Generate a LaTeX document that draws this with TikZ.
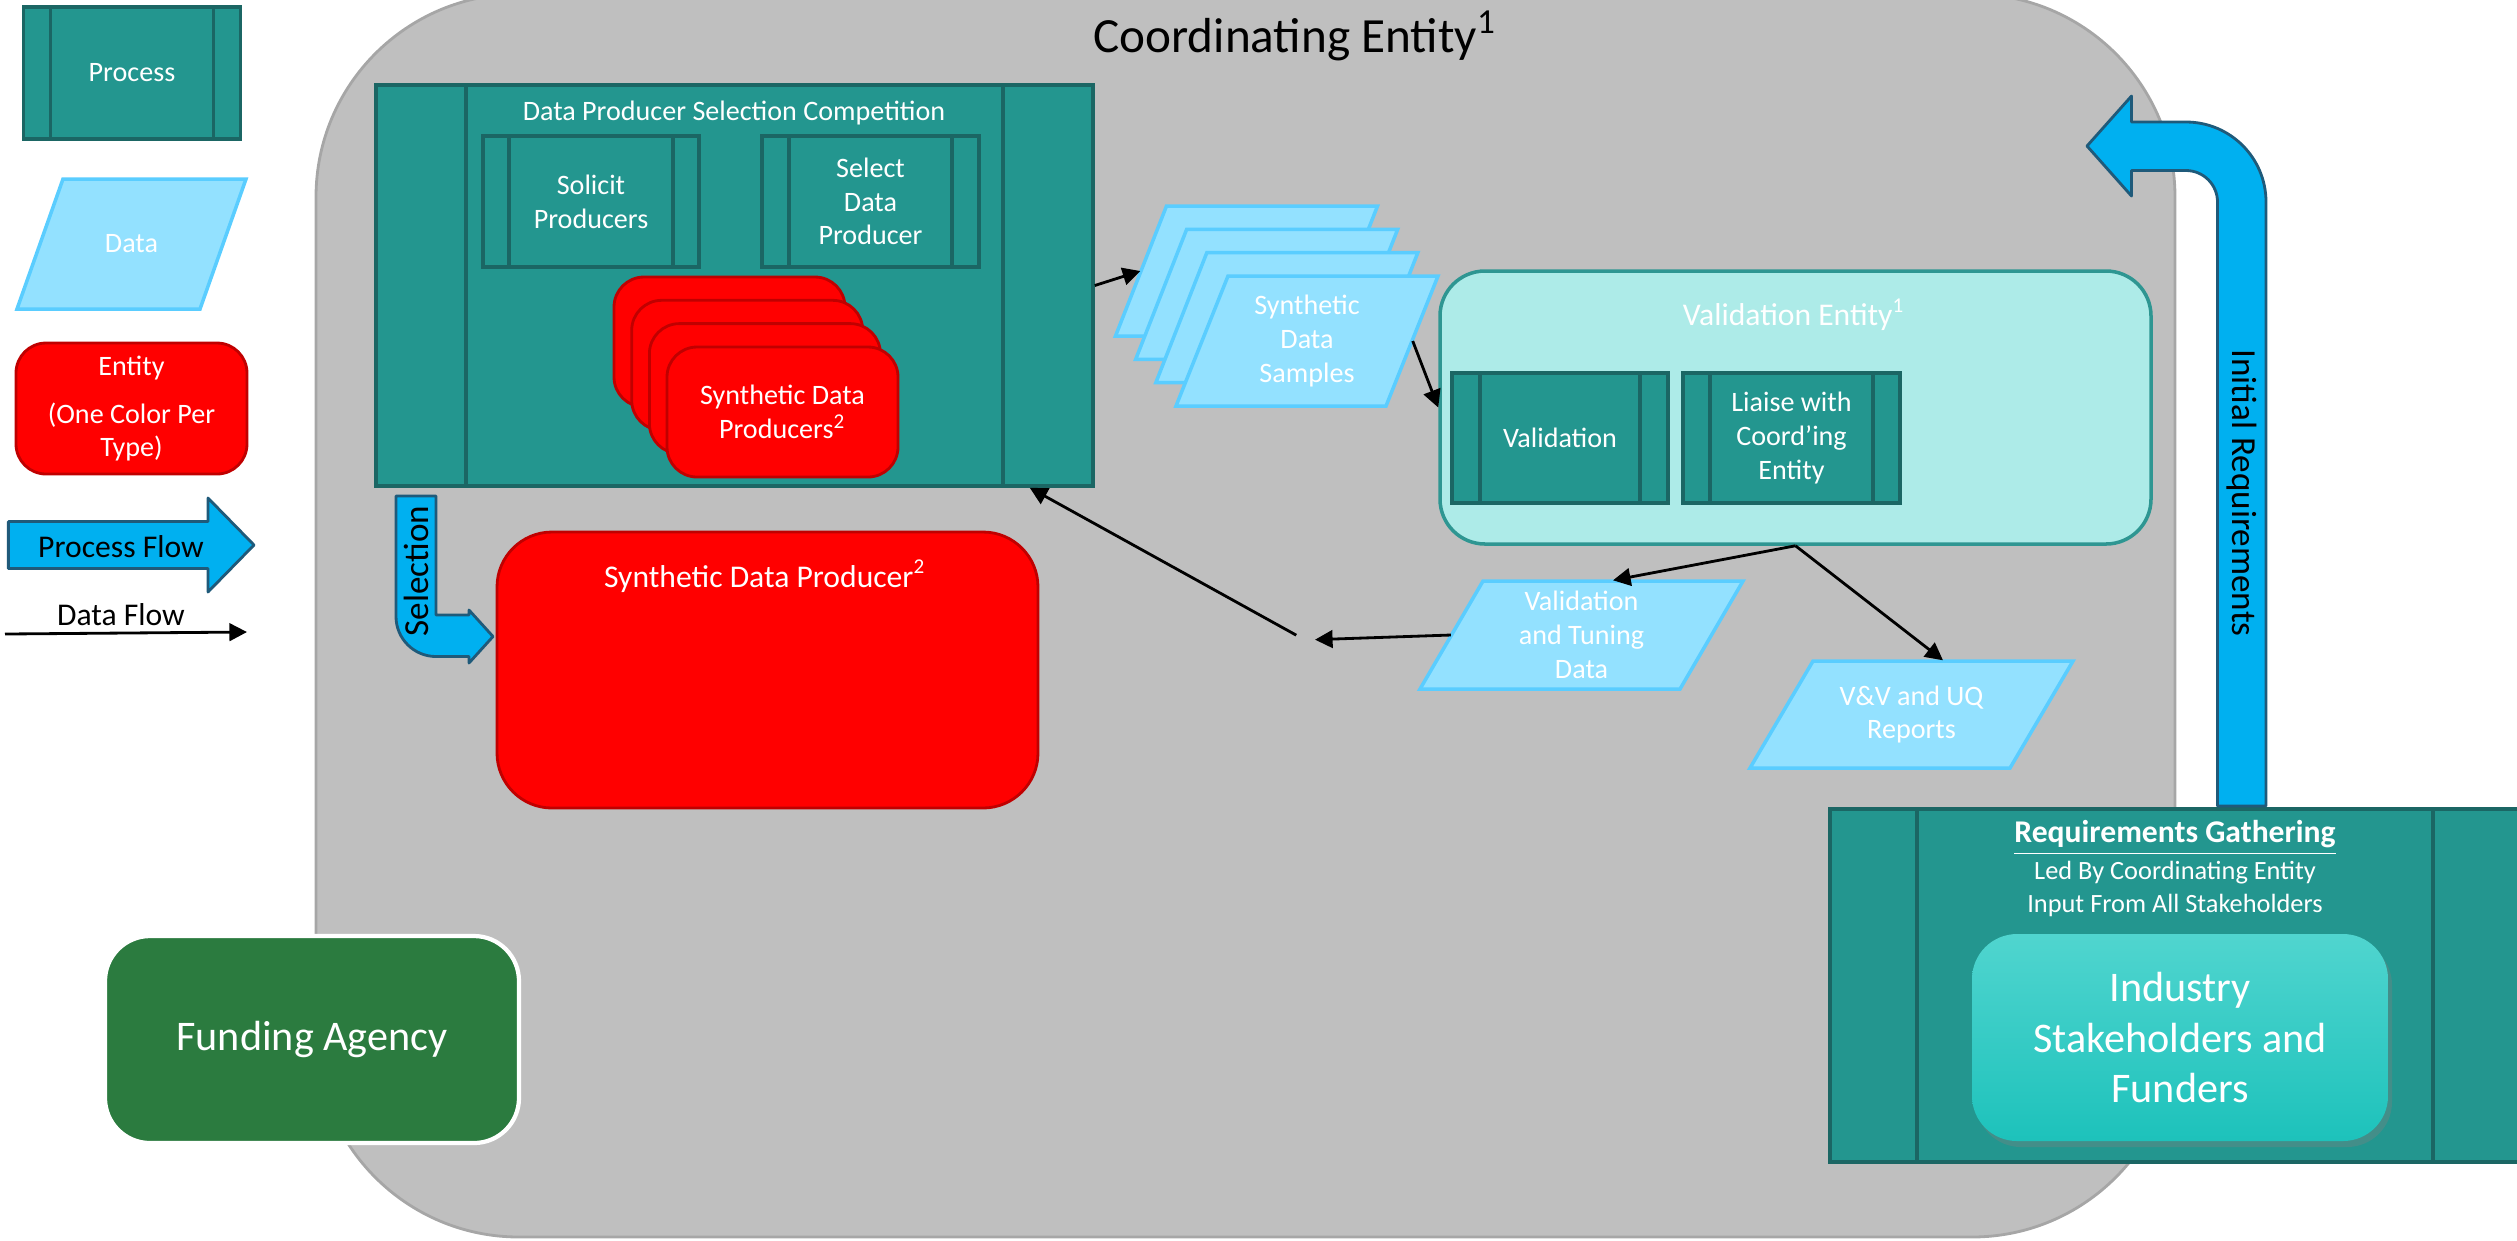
\documentclass[tikz,border=0pt]{standalone}
\usepackage{fontspec}
\setmainfont{Carlito}
\usepackage{tikz}
\usetikzlibrary{arrows.meta}
\usetikzlibrary{shadows}
\definecolor{procfill}{HTML}{23968F}
\definecolor{procline}{HTML}{1B6664}
\definecolor{datfill}{HTML}{93E1FF}
\definecolor{datline}{HTML}{5ACDFF}
\definecolor{entline}{HTML}{C00000}
\definecolor{coordfill}{HTML}{BFBFBF}
\definecolor{coordline}{HTML}{A6A6A6}
\definecolor{valfill}{HTML}{ADEBE8}
\definecolor{valline}{HTML}{2E9692}
\definecolor{flowfill}{HTML}{00B0F0}
\definecolor{flowline}{HTML}{1F5A7A}
\definecolor{fundfill}{HTML}{2B7B3F}
\definecolor{indtop}{HTML}{50D5CF}
\definecolor{indbot}{HTML}{1DC2BB}

\tikzset{
  txt/.style={font=\fontsize{8}{9.6}\selectfont},
  procbox/.style={draw=procline, fill=procfill, line width=1pt, text=white, txt, align=center, inner sep=0pt,
    path picture={\draw[procline, line width=1pt]
      ([xshift=#1]path picture bounding box.north west) -- ([xshift=#1]path picture bounding box.south west)
      ([xshift=-#1]path picture bounding box.north east) -- ([xshift=-#1]path picture bounding box.south east);}},
  procbox/.default=0.27cm,
  datshape/.style={draw=datline, fill=datfill, line width=1pt},
  datatext/.style={text=white, txt, align=center, inner sep=0pt},
  pics/para/.style n args={3}{code={\filldraw[datshape] (-#1/2,-#2/2) -- ++(#1-#3,0) -- ++(#3,#2) -- ++(#3-#1,0) -- cycle;}},
  entbox/.style={draw=entline, fill=red, line width=0.8pt, rounded corners=0.3cm, text=white, txt, align=center},
  dflow/.style={-{Triangle[length=5pt,width=5pt]}, line width=0.8pt},
  bigflow/.style={fill=flowfill, draw=flowline, line width=0.8pt, line join=round},
}

\begin{document}
\begin{tikzpicture}
\useasboundingbox (0,0) rectangle (25.17,-12.40);

% legend
\node[procbox, minimum width=2.17cm, minimum height=1.32cm] (legproc) at (1.32,-0.73) {Process};
\pic at (1.315,-2.44) {para={2.29}{1.30}{0.46}};
\node[datatext, minimum width=1.83cm, minimum height=1.30cm] (legdata) at (1.315,-2.44) {Data};
\node[entbox, minimum width=2.31cm, minimum height=1.31cm] (legent) at (1.315,-4.085) {Entity\\[4pt](One Color Per\\Type)};
\draw[bigflow] (0.084,-5.215) -- (2.08,-5.215) -- (2.08,-4.98) -- (2.54,-5.45) -- (2.08,-5.92) -- (2.08,-5.685) -- (0.084,-5.685) -- cycle;
\node[font=\fontsize{9}{10.8}\selectfont] (legpflow) at (1.21,-5.47) {Process Flow};
\node[font=\fontsize{9}{10.8}\selectfont] (legdflow) at (1.21,-6.15) {Data Flow};
\coordinate (dfa) at (0.05,-6.34);
\coordinate (dfb) at (2.47,-6.32);
\draw[dflow] (dfa) -- (dfb);

% coordinating entity
\node[draw=coordline, fill=coordfill, line width=0.8pt, rounded corners=2.03cm, minimum width=18.59cm, minimum height=12.43cm] (coord) at (12.455,-6.155) {};
\node[font=\fontsize{14}{16.8}\selectfont] (coordtitle) at (12.95,-0.36) {Coordinating Entity\textsuperscript{\fontsize{10}{12}\selectfont 1}};

% selection competition
\node[procbox=0.90cm, minimum width=7.17cm, minimum height=4.01cm] (dpsc) at (7.345,-2.855) {};
\node[text=white, txt] (dpsctitle) at (7.34,-1.13) {Data Producer Selection Competition};
\node[procbox=0.26cm, minimum width=2.16cm, minimum height=1.31cm] (solicit) at (5.91,-2.015) {Solicit\\Producers};
\node[procbox, minimum width=2.17cm, minimum height=1.31cm] (select) at (8.705,-2.015) {Select\\Data\\Producer};
\foreach \i in {0,1,2}
  \node[entbox, minimum width=2.31cm, minimum height=1.30cm] (sdp\i) at (7.295+\i*0.177,-3.42-\i*0.233) {};
\node[entbox, minimum width=2.31cm, minimum height=1.30cm] (sdps) at (7.825,-4.12) {Synthetic Data\\Producers\textsuperscript{2}};

% samples
\foreach \i in {0,1,2} {
  \pic at (12.465+\i*0.2017,-2.71-\i*0.233) {para={2.62}{1.30}{0.51}};
  \node[datatext, minimum width=2.11cm, minimum height=1.30cm] (sds\i) at (12.465+\i*0.2017,-2.71-\i*0.233) {};
}
\pic at (13.07,-3.41) {para={2.62}{1.30}{0.52}};
\node[datatext, minimum width=2.10cm, minimum height=1.30cm] (sds) at (13.07,-3.41) {Synthetic\\Data\\Samples};

% validation entity
\node[draw=valline, fill=valfill, line width=1pt, rounded corners=0.45cm, minimum width=7.11cm, minimum height=2.73cm] (valent) at (17.955,-4.075) {};
\node[text=white, font=\fontsize{9}{10.8}\selectfont] (valtitle) at (17.94,-3.15) {Validation Entity\textsuperscript{1}};
\node[procbox=0.28cm, minimum width=2.16cm, minimum height=1.30cm] (valid) at (15.60,-4.38) {Validation};
\node[procbox, minimum width=2.17cm, minimum height=1.30cm] (liaise) at (17.915,-4.38) {Liaise with\\Coord’ing\\Entity};

\pic at (15.815,-6.35) {para={3.23}{1.08}{0.63}};
\node[datatext, minimum width=2.60cm, minimum height=1.08cm] (vtd) at (15.815,-6.35) {Validation\\and Tuning\\Data};
\pic at (19.115,-7.145) {para={3.23}{1.07}{0.63}};
\node[datatext, minimum width=2.60cm, minimum height=1.07cm] (vnv) at (19.115,-7.145) {V\&V and UQ\\Reports};

% selected producer
\node[entbox, rounded corners=0.55cm, minimum width=5.41cm, minimum height=2.76cm] (sdp) at (7.675,-6.70) {};
\node[text=white, font=\fontsize{9}{10.8}\selectfont] (sdptitle) at (7.65,-5.76) {Synthetic Data Producer\textsuperscript{2}};
\draw[bigflow] (3.96,-4.96) -- (3.96,-6.165) arc (180:270:0.40) -- (4.69,-6.565) -- (4.69,-6.63) -- (4.93,-6.365) -- (4.69,-6.10) -- (4.69,-6.15) -- (4.36,-6.15) -- (4.36,-4.96) -- cycle;
\node[rotate=90, font=\fontsize{10}{12}\selectfont] (seltext) at (4.16,-5.71) {Selection};

\node[draw=white, fill=fundfill, line width=1.2pt, rounded corners=0.45cm, minimum width=4.14cm, minimum height=2.07cm, text=white, font=\fontsize{12}{14.4}\selectfont] (fund) at (3.12,-10.395) {Funding Agency};

% requirements
\node[procbox=0.87cm, minimum width=6.90cm, minimum height=3.53cm] (reqs) at (21.75,-9.855) {};
\node[text=white, font=\bfseries\fontsize{9}{10.8}\selectfont] (reqtitle) at (21.75,-8.38) {\underline{Requirements Gathering}};
\node[text=white, align=center, font=\fontsize{7.5}{9.2}\selectfont] (reqsub) at (21.75,-8.89) {Led By Coordinating Entity\\Input From All Stakeholders};
\node[rounded corners=0.45cm, top color=indtop, bottom color=indbot, drop shadow={opacity=0.35, shadow xshift=0.04cm, shadow yshift=-0.06cm}, minimum width=4.16cm, minimum height=2.07cm, text=white, align=center, font=\fontsize{12}{14.5}\selectfont] (indus) at (21.80,-10.375) {Industry\\Stakeholders and\\Funders};
\draw[bigflow] (22.66,-8.06) -- (22.66,-2.02) arc (0:90:0.80) -- (21.315,-1.22) -- (21.315,-0.96) -- (20.87,-1.46) -- (21.315,-1.96) -- (21.315,-1.705) -- (21.86,-1.705) arc (90:0:0.315) -- (22.175,-8.06) -- cycle;
\node[rotate=-90, font=\fontsize{10}{12}\selectfont] (inireq) at (22.42,-4.93) {Initial Requirements};

% data flows
\draw[dflow] (dpsc.east) -- (sds0.west);
\draw[dflow] (sds.east) -- (valent.west);
\draw[dflow] (valent.south) -- ([xshift=0.315cm]vtd.north);
\draw[dflow] (valent.south) -- ([xshift=0.315cm]vnv.north);
\coordinate (gap) at (13.05,-6.40);
\draw[dflow, shorten >=0.1cm] (vtd.west) -- (gap);
\draw[dflow, shorten <=0.1cm] (gap) -- ([xshift=-0.65cm]dpsc.south east);

\end{tikzpicture}
\end{document}
